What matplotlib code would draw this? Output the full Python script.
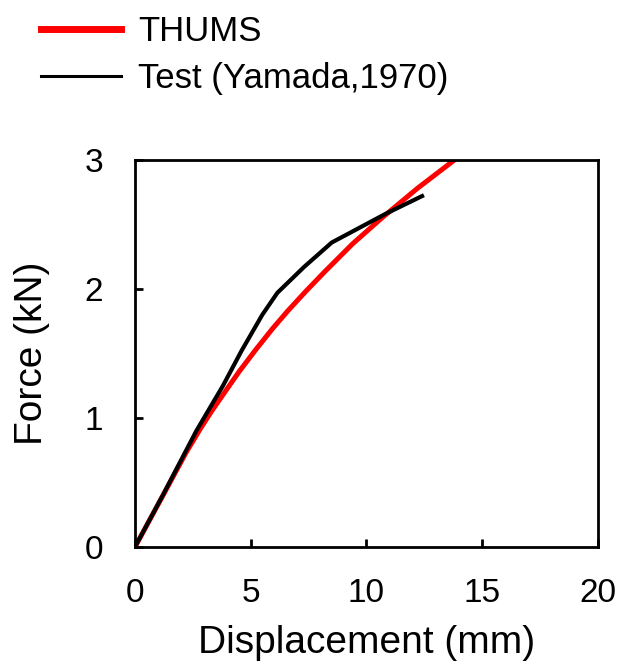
import matplotlib.pyplot as plt
from matplotlib.lines import Line2D

plt.rcParams['font.family'] = ['Liberation Sans', 'DejaVu Sans']

# THUMS simulation curve
thums_disp = [0, 1.3, 2.2, 2.8, 3.3, 3.8, 4.5, 5.22, 5.93, 6.6, 7.37, 8.23,
              9.4, 10.66, 12.2, 13.8, 14.5]
thums_force = [0, 0.43, 0.73, 0.91, 1.05, 1.18, 1.36, 1.53, 1.69, 1.83, 1.98,
               2.14, 2.35, 2.55, 2.78, 3.00, 3.09]

# Test curve (Yamada, 1970)
test_disp = [0, 1.2, 2.65, 3.8, 4.6, 5.5, 6.15, 7.3, 8.5, 10.8, 12.4]
test_force = [0, 0.40, 0.90, 1.25, 1.52, 1.80, 1.97, 2.17, 2.36, 2.58, 2.72]

fig = plt.figure(figsize=(6.27, 6.61), dpi=100)
ax = fig.add_axes([0.2153, 0.1725, 0.7384, 0.5855])

ax.plot(thums_disp, thums_force, color='#ff0000', lw=3.6)
ax.plot(test_disp, test_force, color='black', lw=3.0)

ax.set_xlim(0, 20)
ax.set_ylim(0, 3)
ax.set_xticks([0, 5, 10, 15, 20])
ax.set_yticks([0, 1, 2, 3])

for s in ax.spines.values():
    s.set_linewidth(2)
ax.tick_params(direction='in', length=6, width=2, labelsize=24)
ax.tick_params(axis='x', pad=22)
ax.tick_params(axis='y', pad=23)

ax.set_xlabel('Displacement (mm)', fontsize=28, labelpad=12)
ax.set_ylabel('Force (kN)', fontsize=28, labelpad=25)

handles = [Line2D([], [], color='#ff0000', lw=5),
           Line2D([], [], color='black', lw=2.2)]
fig.legend(handles, ['THUMS', 'Test (Yamada,1970)'], loc='upper left',
           bbox_to_anchor=(0.015, 1.024), frameon=False, fontsize=25,
           handlelength=2.3, handletextpad=0.5, labelspacing=0.39)

fig.savefig('out.png', dpi=100)
